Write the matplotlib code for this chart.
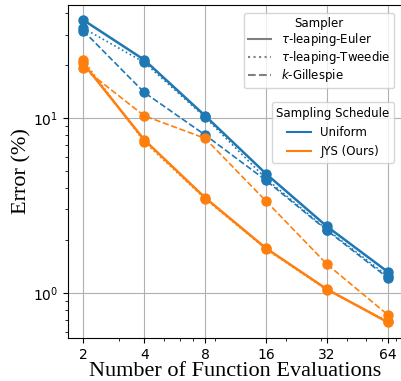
import numpy as np
import matplotlib
matplotlib.use("Agg")
import matplotlib.pyplot as plt
import matplotlib.ticker as ticker
from matplotlib.lines import Line2D

# Number of function evaluations
nfe = [2, 4, 8, 16, 32, 64]
nfe_labels = ["2", "4", "8", "16", "32", "64"]

# Error (%) per sampler, uniform schedule
uniform_euler = [36.3, 21.5, 10.3, 4.8, 2.40, 1.32]
uniform_tweedie = [32.6, 20.8, 10.1, 4.5, 2.30, 1.25]
uniform_gillespie = [31.5, 14.0, 8.0, 4.4, 2.28, 1.22]

# Error (%) per sampler, JYS schedule
jys_euler = [20.5, 7.5, 3.5, 1.80, 1.05, 0.68]
jys_tweedie = [21.4, 7.3, 3.45, 1.78, 1.04, 0.69]
jys_gillespie = [19.3, 10.3, 7.65, 3.35, 1.46, 0.75]

SAMPLERS = [r"$\tau$-leaping-Euler", r"$\tau$-leaping-Tweedie", r"$k$-Gillespie"]
LINESTYLES = ["-", ":", "--"]
SCHEDULES = ["Uniform", "JYS (Ours)"]
COLORS = ["tab:blue", "tab:orange"]

fig = plt.figure(figsize=(4.01, 3.81), dpi=100)
ax = fig.add_axes([0.170, 0.113, 0.835, 0.874])

series = {
    "Uniform": [uniform_euler, uniform_tweedie, uniform_gillespie],
    "JYS (Ours)": [jys_euler, jys_tweedie, jys_gillespie],
}

for sched, color in zip(SCHEDULES, COLORS):
    for vals, ls in zip(series[sched], LINESTYLES):
        lw = 1.8 if ls == "-" else 1.2
        ax.plot(nfe, vals, linestyle=ls, color=color, linewidth=lw,
                marker="o", markersize=6.5)

ax.set_xscale("log")
ax.set_yscale("log")
ax.set_xticks(nfe, nfe_labels)
ax.xaxis.set_minor_formatter(ticker.NullFormatter())
ax.set_ylim(0.553, 44.3)
ax.grid(True, which="major", color="#b0b0b0", linewidth=0.8)
ax.tick_params(labelsize=10)

ax.set_xlabel("Number of Function Evaluations", fontsize=16,
              family="Liberation Serif", labelpad=0)
ax.set_ylabel("Error (%)", fontsize=16, family="Liberation Serif", labelpad=1)

sampler_handles = [Line2D([0], [0], color="gray", linestyle=ls, linewidth=1.5)
                   for ls in LINESTYLES]
leg1 = ax.legend(sampler_handles, SAMPLERS, title="Sampler", loc="upper right",
                 fontsize=8.5, title_fontsize=8.5, labelspacing=0.1,
                 borderpad=0.35, bbox_to_anchor=(0.992, 0.995))
ax.add_artist(leg1)

sched_handles = [Line2D([0], [0], color=c, linewidth=1.5) for c in COLORS]
ax.legend(sched_handles, SCHEDULES, title="Sampling Schedule", loc="upper right",
          fontsize=8.5, title_fontsize=8.5, labelspacing=0.5,
          bbox_to_anchor=(0.992, 0.725))

fig.savefig("out.png", dpi=100)
